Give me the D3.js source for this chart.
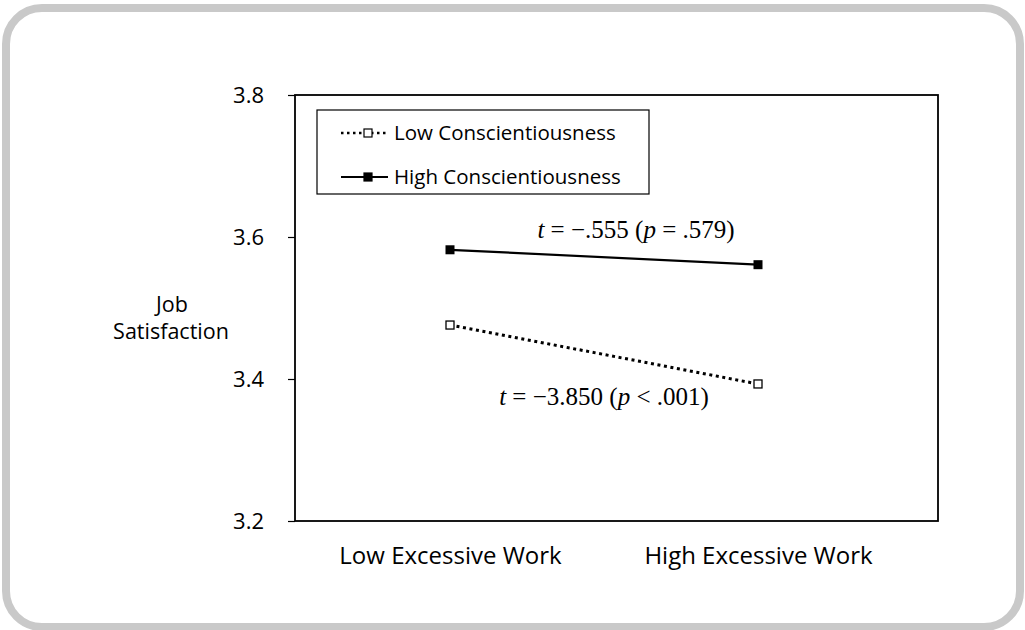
<!DOCTYPE html>
<html>
<head>
<meta charset="utf-8">
<script src="https://cdn.jsdelivr.net/npm/d3@7"></script>
<style>
  body { margin: 0; background: #fff; }
  text { font-family: "Open Sans", "Noto Sans", sans-serif; fill: #000; }
  .note { font-family: "Liberation Serif", "Times New Roman", serif; }
</style>
</head>
<body>
<div id="chart"></div>
<script>
// Data
const categories = ["Low Excessive Work", "High Excessive Work"];
const lowConsc = [3.476, 3.393];
const highConsc = [3.582, 3.561];
const yTicks = [3.2, 3.4, 3.6, 3.8];
const seriesNames = ["Low Conscientiousness", "High Conscientiousness"];

const W = 1025, H = 630;
const margin = {top: 95, right: 87, bottom: 109, left: 295},
      width = W - margin.left - margin.right,
      height = H - margin.top - margin.bottom;

const root = d3.select("#chart").append("svg")
  .attr("width", W).attr("height", H);

// outer rounded frame
root.append("rect")
  .attr("x", 6).attr("y", 8).attr("width", 1014).attr("height", 619)
  .attr("rx", 36).attr("ry", 36)
  .attr("fill", "#fff").attr("stroke", "#c9c9c9").attr("stroke-width", 8);

const svg = root.append("g")
  .attr("transform", `translate(${margin.left},${margin.top})`);

// X scale (categories sit a bit left of centre, like the Excel original)
const x = d3.scalePoint()
  .domain(categories)
  .range([155, width - 180]);

const y = d3.scaleLinear()
  .domain([3.2, 3.8])
  .range([height, 0]);

// plot frame
svg.append("rect")
  .attr("width", width).attr("height", height)
  .attr("fill", "none").attr("stroke", "#000").attr("stroke-width", 1.8);

// Y axis
const yAxis = svg.append("g")
  .call(d3.axisLeft(y).tickValues(yTicks).tickFormat(d3.format(".1f")).tickSize(7).tickPadding(24));
yAxis.select(".domain").remove();
yAxis.selectAll("line").attr("stroke", "#000").attr("stroke-width", 1.2);
yAxis.selectAll("text").style("font-size", "22px");

// X axis labels
const xAxis = svg.append("g")
  .attr("transform", `translate(0,${height})`)
  .call(d3.axisBottom(x).tickSize(0).tickPadding(26));
xAxis.select(".domain").remove();
xAxis.selectAll("text").style("font-size", "24px");

// Y title
const yTitle = root.append("text")
  .attr("text-anchor", "middle")
  .style("font-size", "21.5px");
yTitle.append("tspan").attr("x", 172).attr("y", 312).text("Job");
yTitle.append("tspan").attr("x", 171).attr("y", 339).text("Satisfaction");

const line = d3.line()
  .x((d, i) => x(categories[i]))
  .y(d => y(d));

// lines
svg.append("path").datum(highConsc)
  .attr("d", line).attr("fill", "none")
  .attr("stroke", "#000").attr("stroke-width", 2.2);

svg.append("path").datum(lowConsc)
  .attr("d", line).attr("fill", "none")
  .attr("stroke", "#000").attr("stroke-width", 3)
  .attr("stroke-dasharray", "3,3.6");

// markers
const ms = 9;
svg.selectAll(".hm").data(highConsc).enter().append("rect")
  .attr("x", (d, i) => x(categories[i]) - ms / 2)
  .attr("y", d => y(d) - ms / 2)
  .attr("width", ms).attr("height", ms)
  .attr("fill", "#000");

svg.selectAll(".lm").data(lowConsc).enter().append("rect")
  .attr("x", (d, i) => x(categories[i]) - (ms - 1) / 2)
  .attr("y", d => y(d) - (ms - 1) / 2)
  .attr("width", ms - 1).attr("height", ms - 1)
  .attr("fill", "#fff").attr("stroke", "#000").attr("stroke-width", 1.3);

// annotations
function note(xp, yp, parts) {
  const t = svg.append("text").attr("class", "note")
    .attr("x", xp).attr("y", yp)
    .attr("text-anchor", "middle")
    .style("font-size", "25px");
  parts.forEach(p => t.append("tspan").style("font-style", p[1] ? "italic" : "normal").text(p[0]));
}
note(636 - margin.left, 238 - margin.top,
  [["t", true], [" = \u2212.555 (", false], ["p", true], [" = .579)", false]]);
note(604 - margin.left, 405 - margin.top,
  [["t", true], [" = \u22123.850 (", false], ["p", true], [" < .001)", false]]);

// legend
const lg = root.append("g");
lg.append("rect")
  .attr("x", 317).attr("y", 110).attr("width", 332).attr("height", 84)
  .attr("fill", "#fff").attr("stroke", "#000").attr("stroke-width", 1.2);

const rows = [
  {name: seriesNames[0], y: 133, dash: "2.5,3.5", sw: 2.5, fill: "#fff"},
  {name: seriesNames[1], y: 177, dash: null, sw: 2, fill: "#000"}
];
rows.forEach(r => {
  lg.append("line")
    .attr("x1", 341).attr("x2", 388).attr("y1", r.y).attr("y2", r.y)
    .attr("stroke", "#000").attr("stroke-width", r.sw)
    .attr("stroke-dasharray", r.dash);
  lg.append("rect")
    .attr("x", 364).attr("y", r.y - 4).attr("width", 8).attr("height", 8)
    .attr("fill", r.fill).attr("stroke", "#000").attr("stroke-width", 1.2);
  lg.append("text")
    .attr("x", 394).attr("y", r.y).attr("dy", "0.35em")
    .style("font-size", "20.5px")
    .text(r.name);
});
</script>
</body>
</html>
